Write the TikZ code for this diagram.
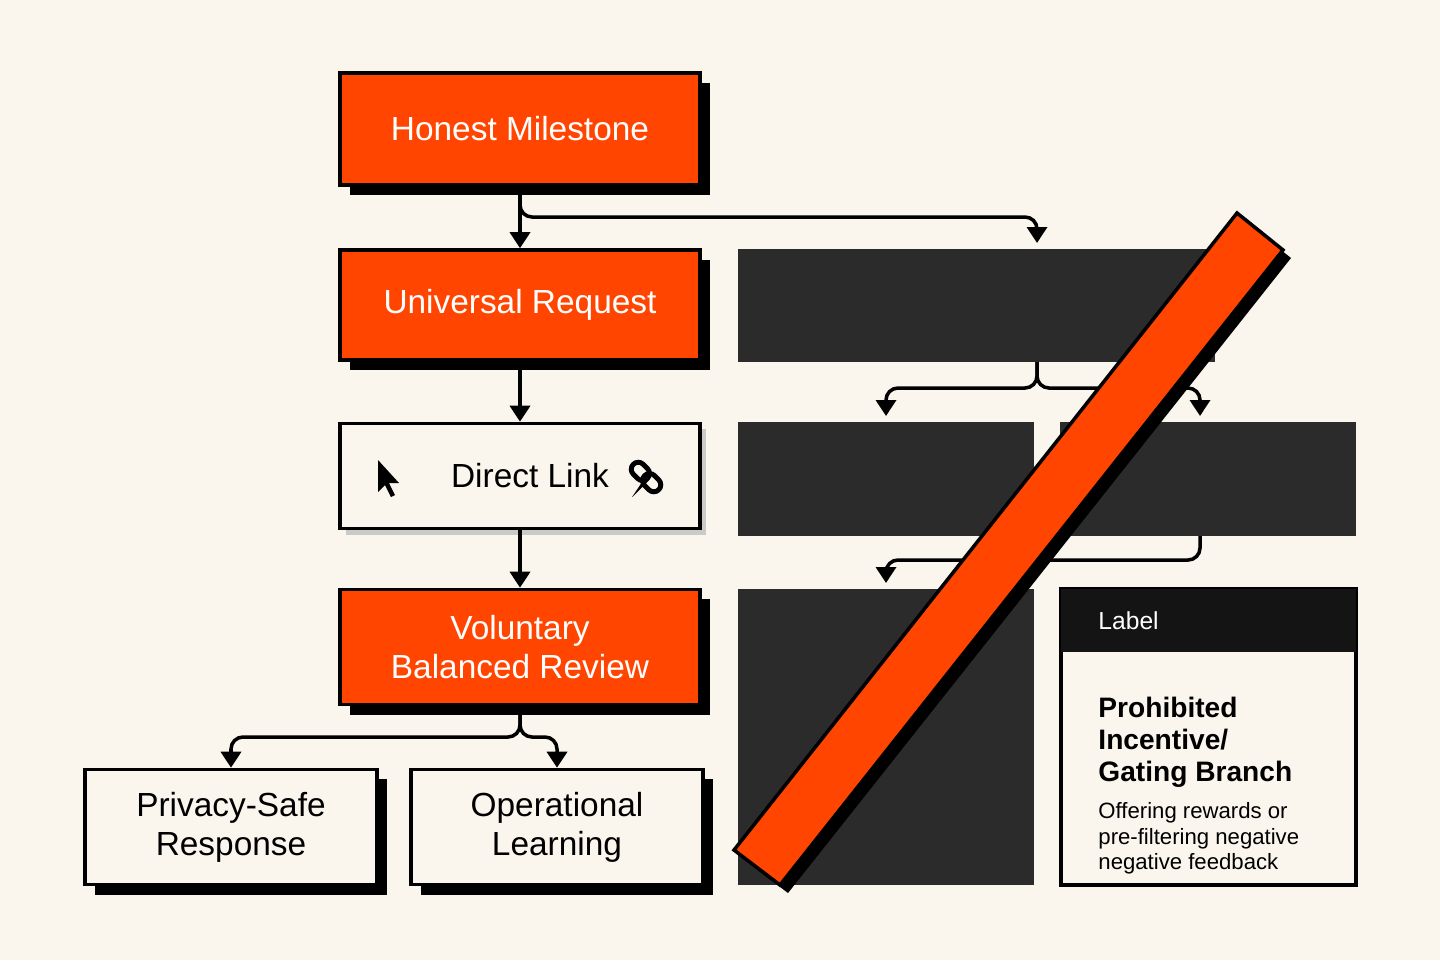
\documentclass[tikz,border=0pt]{standalone}
\usepackage{fontspec}
\setmainfont{Liberation Sans}
\usetikzlibrary{positioning,shadows,arrows.meta}
\definecolor{paper}{HTML}{FAF6EE}
\definecolor{flame}{HTML}{FF4500}
\definecolor{coal}{HTML}{2B2B2B}
\tikzset{
  px/.style={x=0.01cm,y=-0.01cm},
  stage/.style={draw=black, line width=1pt, minimum width=3.6cm, align=center,
    font=\fontsize{9.5}{11}\selectfont, inner sep=0pt},
  hot/.style={stage, fill=flame, text=white, drop shadow={shadow xshift=0.1cm, shadow yshift=-0.1cm, fill=black, opacity=1}},
  plain/.style={stage, fill=paper, text=black, drop shadow={shadow xshift=0.1cm, shadow yshift=-0.1cm, fill=black, opacity=1}},
  soft/.style={stage, fill=paper, drop shadow={shadow xshift=0.06cm, shadow yshift=-0.06cm, fill=black!25, opacity=0.8}},
  block/.style={fill=coal, draw=none},
  link/.style={line width=1pt, rounded corners=0.12cm, -{Triangle[length=0.16cm,width=0.2cm]}}
}
\begin{document}
\begin{tikzpicture}[px]
\fill[paper] (0,0) rectangle (1440,960);
% left column
\node[hot, minimum height=1.12cm] (milestone) at (520,129) {Honest Milestone};
\node[hot, minimum height=1.1cm] (request) at (520,305) {Universal Request};
\node[soft, minimum height=1.05cm] (direct) at (520,476) {\hspace{0.2cm}Direct Link};
\node[hot, minimum height=1.15cm] (review) at (520,647) {Voluntary\\Balanced Review};
\node[plain, minimum width=2.92cm, minimum height=1.15cm] (privacy) at (231,827) {Privacy-Safe\\Response};
\node[plain, minimum width=2.92cm, minimum height=1.15cm] (learning) at (557,827) {Operational\\Learning};
% cursor and chain icons
\fill[black] (378,460) -- (378,492) -- (385,485) -- (391,497) -- (395,495) -- (389,483) -- (399,483) -- cycle;
\draw[line width=1.4pt, rounded corners=0.07cm, rotate around={-45:(646,477)}] (628,470) rectangle (648,484);
\draw[line width=1.4pt, rounded corners=0.07cm, rotate around={-45:(646,477)}] (644,470) rectangle (664,484);
% right blocks
\fill[block] (738,249) rectangle (1215,362);
\fill[block] (738,422) rectangle (1034,536);
\fill[block] (1060,422) rectangle (1356,536);
\fill[block] (738,589) rectangle (1034,885);
\coordinate (top) at (1037,362);
\coordinate (midR) at (1200,536);
% label card
\draw[line width=1pt, fill=paper] (1061,589) rectangle (1356,885);
\fill[black!92] (1061,589) rectangle (1356,652);
\node[text=white, anchor=west, font=\fontsize{7}{8}\selectfont] (label) at (1086,621) {Label};
\node[anchor=north west, align=left, font=\bfseries\fontsize{8}{9}\selectfont] (title) at (1086,685) {Prohibited\\Incentive/\\Gating Branch};
\node[anchor=north west, align=left, font=\fontsize{6.3}{7.3}\selectfont] (desc) at (1086,790) {Offering rewards or\\pre-filtering negative\\negative feedback};
% connectors
\draw[link] (milestone.south) -- (request.north);
\draw[link] (milestone.south) |- (1037,217) -- (1037,243);
\draw[link] (request.south) -- (direct.north);
\draw[link] (direct.south) -- (review.north);
\draw[link] (review.south) |- (231,737) -- (privacy.north);
\draw[link] (review.south) |- (557,737) -- (learning.north);
\draw[link] (top) |- (886,388) -- (886,416);
\draw[link] (top) |- (1200,388) -- (1200,416);
\draw[link] (midR) |- (886,560) -- (886,583);
% strike bar
\fill[black] (1245,221) -- (1291,258) -- (788,893) -- (742,858) -- cycle;
\draw[fill=flame, line width=1pt] (1237,213) -- (1283,250) -- (780,885) -- (734,850) -- cycle;
\end{tikzpicture}
\end{document}
